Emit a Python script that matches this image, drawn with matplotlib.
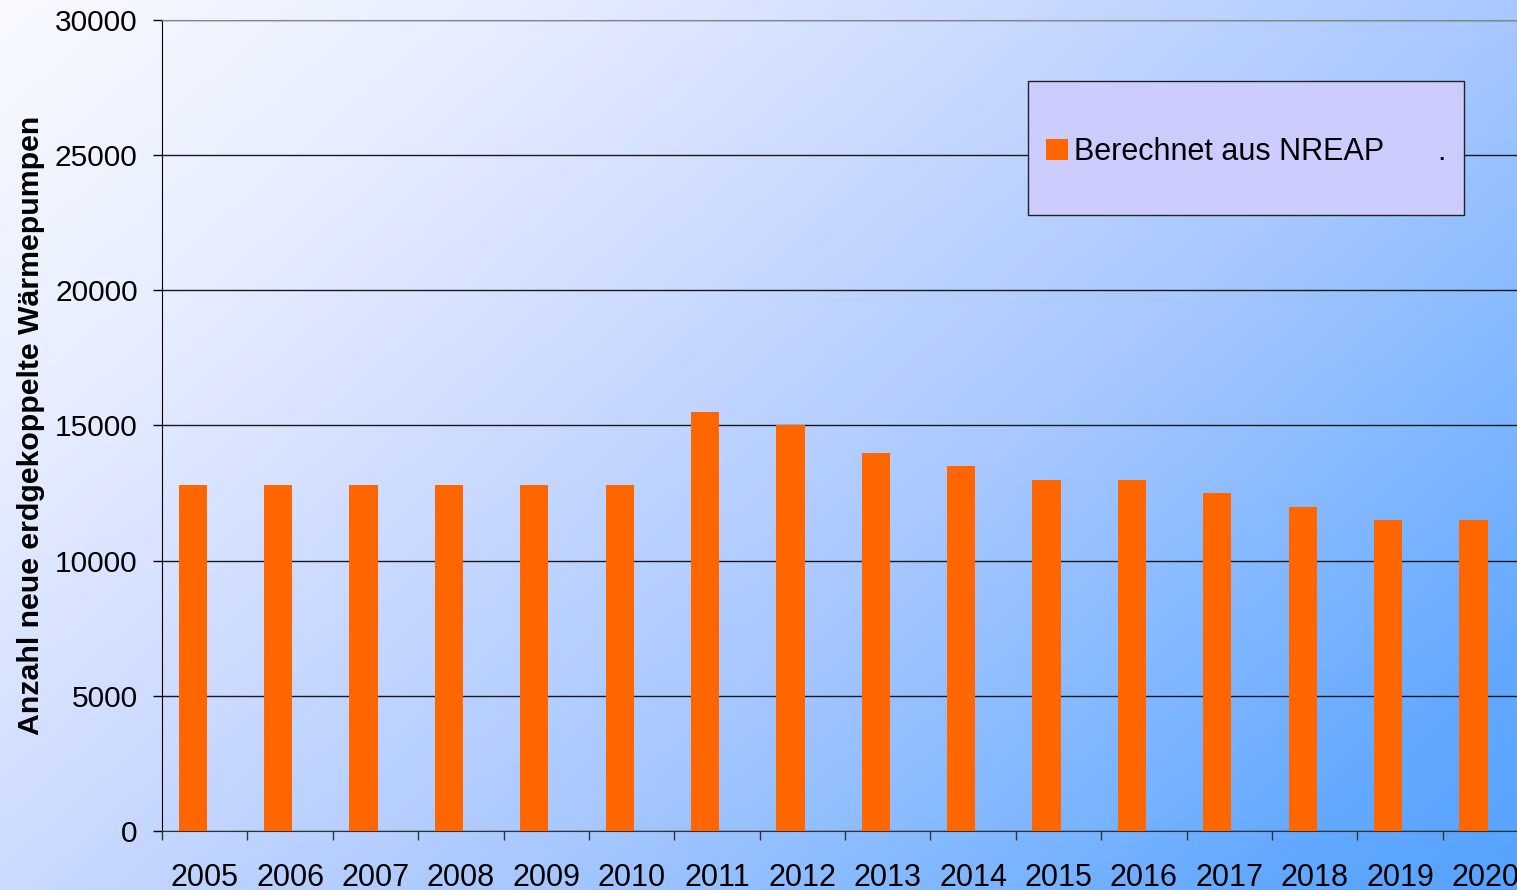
import numpy as np
import matplotlib.pyplot as plt
from matplotlib.colors import LinearSegmentedColormap
from matplotlib.patches import Rectangle

plt.rcParams['font.family'] = ['Liberation Sans', 'DejaVu Sans']

years = ['2005', '2006', '2007', '2008', '2009', '2010', '2011', '2012',
         '2013', '2014', '2015', '2016', '2017', '2018', '2019', '2020']
nreap = [12800, 12800, 12800, 12800, 12800, 12800, 15500, 15000,
         14000, 13500, 13000, 13000, 12500, 12000, 11500, 11500]
other = [0] * len(years)  # second (empty) series, labelled "."

W, H = 1517, 890
fig = plt.figure(figsize=(W / 100, H / 100), dpi=100)

# diagonal background gradient
bg = fig.add_axes([0, 0, 1, 1], zorder=-10)
gx, gy = np.meshgrid(np.linspace(0, 1, 300), np.linspace(0, 1, 200))
t = (gx * 0.6 + gy * 0.4)
cmap = LinearSegmentedColormap.from_list('bg', [
    (0.0, (248/255, 250/255, 1)),
    (0.2, (232/255, 238/255, 1)),
    (0.4, (203/255, 218/255, 1)),
    (0.6, (168/255, 200/255, 1)),
    (0.8, (122/255, 180/255, 1)),
    (0.9, (98/255, 168/255, 1)),
    (1.0, (85/255, 163/255, 1))])
bg.imshow(t, cmap=cmap, aspect='auto', extent=[0, 1, 0, 1], origin='upper')
bg.axis('off')

ax = fig.add_axes([162 / W, 1 - 831 / H, 1366 / W, 811 / H])
ax.set_facecolor('none')

x = np.arange(len(years))
ax.bar(x - 0.139, nreap, width=0.331, color='#ff6600', zorder=3,
       label='Berechnet aus NREAP')
ax.bar(x + 0.19, other, width=0.331, color='none', zorder=3, label='.')

ax.set_xlim(-0.5, len(years) - 0.5)
ax.set_ylim(0, 30000)
ax.set_yticks(range(0, 30001, 5000))
ax.yaxis.grid(True, color='#1a1a1a', lw=1)
ax.set_axisbelow(True)

ax.set_xticks(np.arange(len(years) + 1) - 0.5)
ax.set_xticklabels([])
ax.set_xticks(x, minor=True)
ax.set_xticklabels(years, minor=True)
ax.tick_params(axis='x', which='major', length=6.5, width=1, color='#333')
ax.tick_params(axis='x', which='minor', length=0, pad=23, labelsize=22)
ax.tick_params(axis='y', length=6.5, width=1, pad=11, labelsize=21.5)

ax.spines['left'].set_color('black')
ax.spines['bottom'].set_color('#333')
ax.spines['top'].set_color('#888')
ax.spines['right'].set_visible(False)

ax.set_ylabel('Anzahl neue erdgekoppelte Wärmepumpen', fontsize=21.8,
              fontweight='bold', labelpad=7)

# legend box
fig.patches.append(Rectangle((1028 / W, 1 - 215 / H), 436 / W, 134 / H,
                             transform=fig.transFigure, facecolor='#ccccff',
                             edgecolor='#222', lw=1, zorder=5))
leg = fig.legend(loc='center left', bbox_to_anchor=(1034 / W, 1 - 152 / H),
                 ncol=2, frameon=False, fontsize=22, handlelength=0.72,
                 handleheight=0.7, handletextpad=0.2, columnspacing=0.82,
                 borderaxespad=0)
leg.set_zorder(6)

fig.savefig('out.png', dpi=100)
